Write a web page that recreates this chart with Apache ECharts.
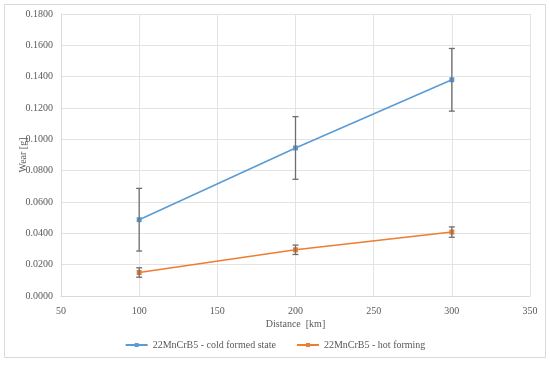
<!DOCTYPE html>
<html><head><meta charset="utf-8">
<script src="https://cdn.jsdelivr.net/npm/echarts@6/dist/echarts.min.js"></script>
<style>html,body{margin:0;padding:0;background:#fff}#c{width:550px;height:365px}</style>
</head><body><div id="c"></div>
<script>
var distances = [100, 200, 300];
var coldName = '22MnCrB5 - cold formed state';
var hotName = '22MnCrB5 - hot forming';
var coldWear = [0.0487, 0.0945, 0.1380];
var coldErr = [0.0200, 0.0200, 0.0200];
var hotWear = [0.0150, 0.0295, 0.0408];
var hotErr = [0.0030, 0.0030, 0.0033];

var FONT = '"Liberation Serif", "DejaVu Serif", serif';
var TXT = '#595959';

function errData(vals, errs) {
  return distances.map(function (d, i) { return [d, vals[i] - errs[i], vals[i] + errs[i]]; });
}
function errRender(params, api) {
  var x = api.value(0);
  var lo = api.coord([x, api.value(1)]);
  var hi = api.coord([x, api.value(2)]);
  var cap = 3;
  var st = { stroke: '#6e6e6e', lineWidth: 1.3 };
  return { type: 'group', children: [
    { type: 'line', shape: { x1: lo[0], y1: lo[1], x2: hi[0], y2: hi[1] }, style: st },
    { type: 'line', shape: { x1: lo[0] - cap, y1: lo[1], x2: lo[0] + cap, y2: lo[1] }, style: st },
    { type: 'line', shape: { x1: hi[0] - cap, y1: hi[1], x2: hi[0] + cap, y2: hi[1] }, style: st }
  ]};
}

var chart = echarts.init(document.getElementById('c'), null, { renderer: 'canvas' });
chart.setOption({
  animation: false,
  backgroundColor: '#fff',
  graphic: [{ type: 'rect', shape: { x: 4.5, y: 4.5, width: 541, height: 353 }, style: { fill: 'none', stroke: '#d9d9d9', lineWidth: 1 }, silent: true }],
  grid: { left: 61, right: 20, top: 14, bottom: 69, outerBoundsMode: 'none', containLabel: false },
  xAxis: {
    type: 'value', min: 50, max: 350, interval: 50,
    name: 'Distance  [km]', nameLocation: 'middle', nameGap: 23, nameMoveOverlap: false,
    nameTextStyle: { fontFamily: FONT, fontSize: 10, color: TXT },
    axisLine: { show: true, lineStyle: { color: '#d9d9d9' } },
    axisTick: { show: false },
    axisLabel: { fontFamily: FONT, fontSize: 10, color: TXT, margin: 10 },
    splitLine: { show: true, lineStyle: { color: '#e3e3e3' } }
  },
  yAxis: {
    type: 'value', min: 0, max: 0.18, interval: 0.02,
    name: 'Wear [g]', nameLocation: 'middle', nameGap: 33, nameMoveOverlap: false,
    nameTextStyle: { fontFamily: FONT, fontSize: 10, color: TXT },
    axisLine: { show: true, lineStyle: { color: '#d9d9d9' } },
    axisTick: { show: false },
    axisLabel: { fontFamily: FONT, fontSize: 10, color: TXT, margin: 8, formatter: function (v) { return v.toFixed(4); } },
    splitLine: { show: true, lineStyle: { color: '#e3e3e3' } }
  },
  legend: {
    data: [coldName, hotName], bottom: 10, left: 'center',
    itemWidth: 22, itemHeight: 5, itemGap: 20,
    textStyle: { fontFamily: FONT, fontSize: 10, color: TXT }
  },
  series: [
    { name: coldName, type: 'line', data: distances.map(function (d, i) { return [d, coldWear[i]]; }),
      symbol: 'rect', symbolSize: 5, itemStyle: { color: '#5b9bd5' }, lineStyle: { color: '#5b9bd5', width: 1.5 }, z: 3 },
    { name: hotName, type: 'line', data: distances.map(function (d, i) { return [d, hotWear[i]]; }),
      symbol: 'rect', symbolSize: 5, itemStyle: { color: '#ed7d31' }, lineStyle: { color: '#ed7d31', width: 1.5 }, z: 3 },
    { name: 'coldErr', type: 'custom', renderItem: errRender, data: errData(coldWear, coldErr), z: 4, silent: true },
    { name: 'hotErr', type: 'custom', renderItem: errRender, data: errData(hotWear, hotErr), z: 4, silent: true }
  ]
});
</script></body></html>
